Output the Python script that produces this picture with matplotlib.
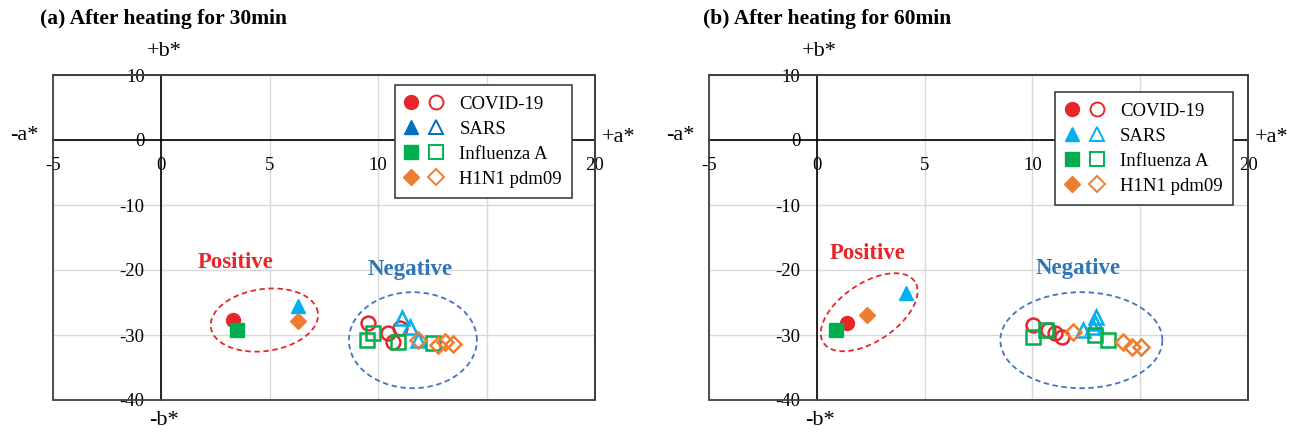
import numpy as np
import matplotlib
matplotlib.use("Agg")
import matplotlib.pyplot as plt
from matplotlib.legend_handler import HandlerTuple
from matplotlib.lines import Line2D
from matplotlib.patches import Rectangle

plt.rcParams["font.family"] = ["Liberation Serif", "DejaVu Serif"]

RED = "#E8262A"
CYAN = "#00B0F0"
DBLUE = "#0070C0"
GREEN = "#00B050"
ORANGE = "#ED7D31"

titles = ["(a) After heating for 30min", "(b) After heating for 60min"]
xtick_vals = [-5, 0, 5, 10, 15, 20]
xtick_labels = ["-5", "0", "5", "10", "", "20"]   # 15 sits under the legend
ytick_vals = [-40, -30, -20, -10, 0, 10]
ytick_labels = ["-40", "-30", "-20", "-10", "0", "10"]

# positive samples (filled markers): one (x, y) pair per panel
pos_covid = [([3.30], [-27.7]), ([1.38], [-28.1])]
pos_sars = [([6.30], [-25.5]), ([4.13], [-23.6])]
pos_flu = [([3.49], [-29.2]), ([0.88], [-29.2])]
pos_h1n1 = [([6.30], [-27.8]), ([2.31], [-26.9])]

# negative samples (hollow markers)
neg_covid = [([9.54, 10.47, 10.70, 11.0], [-28.2, -29.7, -31.0, -28.9]),
             ([10.03, 10.73, 11.04, 11.35], [-28.5, -29.2, -29.7, -30.3])]
neg_sars = [([11.08, 11.47, 11.85], [-27.4, -28.7, -30.8]),
            ([12.35, 12.82, 12.97, 12.89], [-29.2, -28.7, -27.2, -28.2])]
neg_flu = [([9.47, 9.77, 10.93, 12.54], [-30.8, -29.7, -31.0, -31.3]),
           ([10.03, 10.65, 12.89, 13.51], [-30.3, -29.2, -30.0, -30.7])]
neg_h1n1 = [([11.85, 12.77, 13.08, 13.46], [-30.8, -31.5, -31.0, -31.4]),
            ([11.89, 14.21, 14.6, 15.06], [-29.6, -31.0, -31.8, -31.9])]

pos_label_xy = [(3.44, -18.8), (2.34, -17.4)]
neg_label_xy = [(11.47, -20.0), (12.1, -19.7)]

series = [("COVID-19", "o", RED, pos_covid, neg_covid),
          ("SARS", "^", CYAN, pos_sars, neg_sars),
          ("Influenza A", "s", GREEN, pos_flu, neg_flu),
          ("H1N1 pdm09", "D", ORANGE, pos_h1n1, neg_h1n1)]

legend_sars = [DBLUE, CYAN]

# ellipse outlines: centre (data), half axes (px), angle (deg)
pos_ell = [((4.75, -27.7), 54, 31, 8), ((2.43, -26.5), 55, 29, 34)]
neg_ell = [((11.6, -30.8), 64, 48, 0), ((12.27, -30.8), 81, 48, 0)]

fig = plt.figure(figsize=(12.92, 4.34), dpi=100)
axes = [fig.add_axes([53 / 1292, 34 / 434, 542 / 1292, 325 / 434]),
        fig.add_axes([709 / 1292, 34 / 434, 539 / 1292, 325 / 434])]
legend_anchor = [(0.958, 0.969), (0.972, 0.947)]
title_x = [40, 703]


def ellipse(ax, c, a, b, ang, color):
    t = np.linspace(0, 2 * np.pi, 300)
    th = np.deg2rad(ang)
    cx, cy = ax.transData.transform(c)
    px = cx + a * np.cos(t) * np.cos(th) - b * np.sin(t) * np.sin(th)
    py = cy + a * np.cos(t) * np.sin(th) + b * np.sin(t) * np.cos(th)
    pts = ax.transData.inverted().transform(np.column_stack([px, py]))
    ax.plot(pts[:, 0], pts[:, 1], color=color, lw=1.3, ls=(0, (3, 2)), zorder=3)


def msize(m):
    return 8.5 if m == "D" else 10


for i, ax in enumerate(axes):
    ax.set_xlim(-5, 20)
    ax.set_ylim(-40, 10)
    ax.set_xticks(xtick_vals)
    ax.set_xticklabels(xtick_labels)
    ax.set_yticks(ytick_vals)
    ax.set_yticklabels(ytick_labels)
    ax.grid(True, color="#D9D9D9", lw=1)
    ax.set_axisbelow(True)
    for s in ["left", "bottom"]:
        ax.spines[s].set_position(("data", 0))
        ax.spines[s].set_linewidth(1.2)
    for s in ["top", "right"]:
        ax.spines[s].set_color("#404040")
        ax.spines[s].set_linewidth(1.3)
    ax.add_patch(Rectangle((0, 0), 1, 1, transform=ax.transAxes, fill=False,
                           ec="#404040", lw=1.3, zorder=4, clip_on=False))
    ax.tick_params(axis="both", length=0, labelsize=13.5)
    ax.tick_params(axis="x", pad=12)
    ax.tick_params(axis="y", pad=12)

    handles = []
    for name, m, col, pos, neg in series:
        ax.plot(pos[i][0], pos[i][1], m, color=col, ms=msize(m),
                mec=col, ls="none", zorder=5)
        ax.plot(neg[i][0], neg[i][1], m, mfc="none", mec=col,
                ms=msize(m), mew=1.8, ls="none", zorder=5)
        lc = legend_sars[i] if name == "SARS" else col
        h1 = Line2D([], [], marker=m, color=lc, mec=lc, ls="none", ms=msize(m))
        h2 = Line2D([], [], marker=m, mfc="none", mec=lc, ls="none",
                    ms=msize(m), mew=1.4)
        handles.append((h1, h2))
    leg = ax.legend(handles, [s[0] for s in series],
                    handler_map={tuple: HandlerTuple(ndivide=None, pad=0.6)},
                    loc="upper right", bbox_to_anchor=legend_anchor[i],
                    borderaxespad=0, fontsize=13.5, frameon=True,
                    fancybox=False, edgecolor="#404040", framealpha=1,
                    handlelength=2.0, handletextpad=0.9, labelspacing=0.42,
                    borderpad=0.55)
    leg.get_frame().set_linewidth(1.2)
    leg.set_zorder(6)

    c, a, b, ang = pos_ell[i]
    ellipse(ax, c, a, b, ang, RED)
    c, a, b, ang = neg_ell[i]
    ellipse(ax, c, a, b, ang, "#4472C4")

    ax.text(*pos_label_xy[i], "Positive", color=RED, fontsize=16.5,
            fontweight="bold", ha="center", va="center")
    ax.text(*neg_label_xy[i], "Negative", color="#2E75B6", fontsize=16.5,
            fontweight="bold", ha="center", va="center")

    tr = ax.get_xaxis_transform()
    ax.annotate("+b*", xy=(0, 1), xycoords=tr, xytext=(2, 17),
                textcoords="offset points", ha="center", va="center",
                fontsize=16, annotation_clip=False)
    ax.annotate("-b*", xy=(0, 0), xycoords=tr, xytext=(2, -15),
                textcoords="offset points", ha="center", va="center",
                fontsize=16, annotation_clip=False)
    tr2 = ax.get_yaxis_transform()
    ax.annotate("-a*", xy=(0, 0), xycoords=tr2, xytext=(-21, 3),
                textcoords="offset points", ha="center", va="center",
                fontsize=16, annotation_clip=False)
    ax.annotate("+a*", xy=(1, 0), xycoords=tr2, xytext=(17, 2),
                textcoords="offset points", ha="center", va="center",
                fontsize=16, annotation_clip=False)

    fig.text(title_x[i] / 1292, 1 - 19 / 434, titles[i], fontsize=15.5,
             fontweight="bold", ha="left", va="center")

fig.savefig("out.png", dpi=100)
